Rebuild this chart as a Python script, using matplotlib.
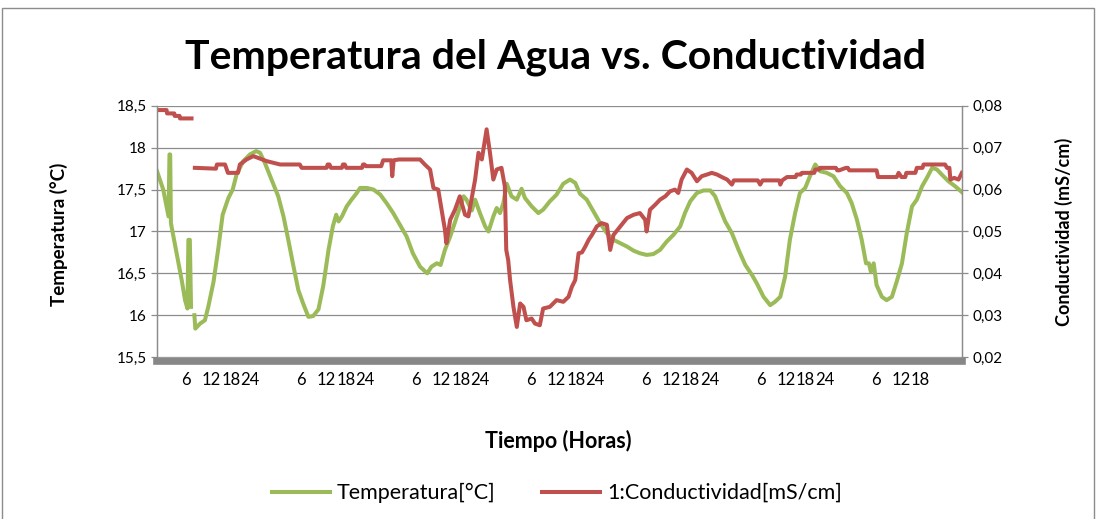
import numpy as np
import matplotlib
matplotlib.use("Agg")
import matplotlib.pyplot as plt
from matplotlib.patches import Rectangle

nan = np.nan

# Temperatura del agua (°C), x en horas
temp_hours = [0.0, 1.3, 2.4, 2.6, 2.75, 2.9, 4.1, 5.15, 5.85, 6.35, 6.55, 6.85, 7.1, 7.4,
              7.8, 8.0, 9.0, 10.0, 10.7, 11.8, 12.8, 13.7, 14.9, 15.8, 16.6, 18.0, 19.4,
              20.7, 21.5, 22.5, 23.9, 25.3, 26.4, 27.4, 28.5, 29.5, 30.5, 31.6, 32.6, 33.7,
              34.7, 35.8, 36.7, 37.4, 37.9, 38.6, 39.6, 40.6, 41.7, 42.4, 43.8, 45.2, 46.6,
              47.9, 49.3, 50.7, 52.1, 53.4, 54.9, 56.4, 57.3, 58.4, 59.2, 60.1, 61.2, 62.6,
              64.0, 64.6, 65.7, 66.4, 67.4, 68.5, 69.2, 70.2, 70.9, 71.6, 72.3, 73.0, 74.0,
              75.1, 76.1, 76.8, 78.2, 79.6, 80.6, 82.0, 83.4, 84.8, 86.2, 87.3, 88.3, 89.7,
              91.1, 92.5, 93.9, 95.3, 96.7, 98.1, 99.5, 100.8, 102.2, 103.6, 105.0, 106.4,
              107.8, 109.2, 110.2, 111.3, 112.7, 114.1, 115.5, 116.5, 117.6, 118.6, 120.0,
              121.4, 122.8, 124.2, 125.2, 126.6, 128.0, 129.0, 130.1, 131.1, 132.1, 133.2,
              134.2, 135.3, 136.3, 137.4, 138.4, 139.8, 141.2, 142.6, 144.0, 145.0, 146.1,
              147.1, 148.0, 148.6, 149.0, 149.6, 150.2, 151.3, 152.3, 153.4, 154.4, 155.5,
              156.5, 157.6, 158.6, 159.7, 160.7, 161.8, 162.8, 163.8, 165.2, 166.6, 168.0]
temp_vals = [17.72, 17.5, 17.18, 17.92, 17.92, 17.1, 16.74, 16.42, 16.18, 16.08, 16.9, 16.9,
             16.1, nan, 16.0, 15.84, 15.9, 15.94, 16.1, 16.4, 16.8, 17.2, 17.4, 17.5, 17.68,
             17.84, 17.92, 17.96, 17.94, 17.82, 17.62, 17.42, 17.18, 16.9, 16.58, 16.3, 16.14,
             15.98, 15.99, 16.07, 16.35, 16.78, 17.06, 17.2, 17.12, 17.18, 17.3, 17.38, 17.46,
             17.52, 17.52, 17.5, 17.44, 17.34, 17.22, 17.08, 16.94, 16.74, 16.58, 16.5, 16.58,
             16.62, 16.6, 16.78, 16.94, 17.18, 17.42, 17.38, 17.25, 17.38, 17.22, 17.06, 17.0,
             17.18, 17.28, 17.22, 17.34, 17.57, 17.42, 17.38, 17.51, 17.4, 17.3, 17.22, 17.26,
             17.36, 17.44, 17.57, 17.62, 17.58, 17.45, 17.38, 17.24, 17.1, 16.98, 16.9, 16.86,
             16.82, 16.77, 16.74, 16.72, 16.73, 16.78, 16.88, 16.96, 17.06, 17.22, 17.36, 17.46,
             17.49, 17.49, 17.42, 17.26, 17.12, 16.98, 16.78, 16.6, 16.48, 16.38, 16.22, 16.12,
             16.16, 16.22, 16.46, 16.9, 17.22, 17.46, 17.52, 17.66, 17.8, 17.72, 17.7, 17.66,
             17.54, 17.46, 17.34, 17.14, 16.9, 16.62, 16.62, 16.52, 16.62, 16.36, 16.22, 16.18,
             16.22, 16.4, 16.62, 16.98, 17.3, 17.38, 17.54, 17.64, 17.76, 17.74, 17.68, 17.6,
             17.54, 17.47]

# Conductividad (mS/cm)
cond_hours = [0.0, 2.0, 2.1, 3.6, 3.7, 4.7, 4.8, 7.2, 7.4, 7.9, 12.3, 12.5, 14.2, 14.8, 16.9,
              17.3, 18.7, 20.1, 21.5, 22.9, 24.3, 25.7, 29.8, 30.2, 35.4, 35.6, 36.0, 36.3,
              38.6, 38.8, 39.2, 39.5, 42.8, 43.0, 43.3, 43.6, 46.8, 47.2, 48.9, 49.1, 49.4,
              50.5, 54.9, 55.9, 57.0, 57.7, 58.7, 59.4, 60.1, 60.4, 61.2, 62.2, 63.2, 64.3,
              65.0, 65.7, 66.4, 67.1, 67.8, 68.8, 69.5, 70.2, 70.9, 71.9, 72.6, 72.9, 73.3,
              73.7, 74.4, 75.1, 75.8, 76.5, 77.1, 78.2, 78.9, 79.9, 80.6, 82.0, 83.4, 84.8,
              85.9, 86.6, 87.3, 88.0, 88.7, 89.4, 90.1, 90.8, 91.8, 92.8, 93.9, 94.6, 95.3,
              96.7, 98.1, 99.5, 100.8, 101.9, 102.2, 102.9, 104.0, 105.0, 106.1, 107.1, 108.1,
              108.8, 109.5, 110.6, 111.6, 112.7, 113.7, 114.8, 115.8, 116.9, 117.9, 119.0,
              120.0, 120.4, 125.4, 125.9, 126.4, 129.9, 130.1, 130.5, 131.5, 133.3, 133.5,
              134.4, 134.6, 137.2, 137.4, 138.2, 138.4, 141.7, 142.0, 142.4, 143.8, 144.2,
              144.5, 150.2, 150.5, 154.4, 154.8, 155.4, 156.2, 156.4, 158.3, 158.6, 159.8,
              160.0, 164.5, 164.9, 165.4, 165.6, 166.4, 167.3, 168.0]
cond_vals = [0.079, 0.079, 0.0782, 0.0782, 0.0776, 0.0776, 0.077, 0.077, nan, 0.0652, 0.065,
             0.066, 0.066, 0.064, 0.064, 0.066, 0.0672, 0.068, 0.0674, 0.0668, 0.0664, 0.066,
             0.066, 0.0652, 0.0652, 0.066, 0.066, 0.0652, 0.0652, 0.066, 0.066, 0.0652, 0.0652,
             0.066, 0.066, 0.0656, 0.0656, 0.067, 0.067, 0.0632, 0.067, 0.0672, 0.0672, 0.066,
             0.0648, 0.0604, 0.060, 0.0552, 0.0504, 0.0472, 0.0528, 0.0552, 0.0584, 0.054,
             0.0536, 0.058, 0.0624, 0.0688, 0.0672, 0.0744, 0.0688, 0.0624, 0.0648, 0.0652,
             0.0608, 0.0456, 0.0432, 0.0384, 0.032, 0.0272, 0.0328, 0.032, 0.0288, 0.0292,
             0.028, 0.0276, 0.0316, 0.032, 0.0336, 0.0332, 0.0344, 0.0368, 0.0384, 0.0448,
             0.045, 0.0464, 0.048, 0.0492, 0.0512, 0.052, 0.0516, 0.0456, 0.0492, 0.0512,
             0.0532, 0.054, 0.0544, 0.0528, 0.05, 0.0552, 0.0564, 0.0576, 0.0584, 0.0596, 0.06,
             0.0592, 0.0624, 0.0648, 0.064, 0.062, 0.0632, 0.0636, 0.064, 0.0636, 0.063, 0.0624,
             0.0612, 0.0622, 0.0622, 0.0612, 0.0622, 0.0622, 0.0612, 0.0622, 0.063, 0.063,
             0.0636, 0.0636, 0.064, 0.064, 0.0648, 0.0648, 0.0652, 0.0652, 0.0646, 0.0646,
             0.0652, 0.0652, 0.0646, 0.0646, 0.063, 0.063, 0.064, 0.063, 0.063, 0.064, 0.064,
             0.0652, 0.0652, 0.066, 0.066, 0.0652, 0.0652, 0.0624, 0.0628, 0.0624, 0.064]

# Etiquetas del eje x (horas del dia, 7 dias; el ultimo sin 24)
day_labels = ["6", "12", "18", "24"]
label_offsets = [6.0, 11.3, 15.4, 19.4]
n_days = 7
n_labels = 27

temp_ticks = [15.5, 16, 16.5, 17, 17.5, 18, 18.5]
cond_ticks = [0.02, 0.03, 0.04, 0.05, 0.06, 0.07, 0.08]

green = "#9BBB59"
red = "#C0504D"
grid_gray = "#8C8C8C"

plt.rcParams['font.family'] = ['Lato', 'DejaVu Sans']

fig = plt.figure(figsize=(10.98, 5.19), dpi=100)
ax = fig.add_axes([0.143, 0.312, 0.733, 0.484])
ax2 = ax.twinx()

# Lineas
l1, = ax.plot(temp_hours, temp_vals, color=green, lw=2.9, solid_joinstyle='round',
              label="Temperatura[°C]")
l2, = ax2.plot(cond_hours, cond_vals, color=red, lw=2.9, solid_joinstyle='round',
               label="1:Conductividad[mS/cm]")

# Ejes
ax.set_xlim(0, 168)
ax.set_ylim(15.5, 18.5)
ax2.set_ylim(0.02, 0.08)
ax.set_yticks(temp_ticks)
ax.set_yticklabels([f"{t:g}".replace(".", ",") for t in temp_ticks])
ax2.set_yticks(cond_ticks)
ax2.set_yticklabels([f"{c:.2f}".replace(".", ",") for c in cond_ticks])

xt, xl = [], []
for d in range(n_days):
    for off, lab in zip(label_offsets, day_labels):
        xt.append(24 * d + off)
        xl.append(lab)
ax.set_xticks(xt[:n_labels])
ax.set_xticklabels(xl[:n_labels])

ax.grid(axis='y', color=grid_gray, lw=0.9)
ax.set_axisbelow(True)
ax.tick_params(axis='x', length=0, labelsize=12, pad=8)
ax.tick_params(axis='y', length=4, color=grid_gray, width=0.9, labelsize=11)
ax2.tick_params(axis='y', length=4, color=grid_gray, width=0.9, labelsize=11)

for a in (ax, ax2):
    a.spines['top'].set_visible(False)
    a.spines['left'].set_color(grid_gray)
    a.spines['right'].set_color(grid_gray)
    a.spines['left'].set_linewidth(0.9)
    a.spines['right'].set_linewidth(0.9)
    a.spines['bottom'].set_visible(False)
ax.spines['bottom'].set_visible(True)
ax.spines['bottom'].set_color("#878787")
ax.spines['bottom'].set_linewidth(5.5)
ax.spines['bottom'].set_position(('outward', 2.6))

ax.set_ylabel("Temperatura (°C)", fontsize=13.5, fontweight='bold')
ax.yaxis.set_label_coords(-0.111, 0.49)
ax2.set_ylabel("Conductividad (mS/cm)", fontsize=13, fontweight='bold', rotation=90)
ax2.yaxis.set_label_coords(1.116, 0.5)
ax.set_xlabel("Tiempo (Horas)", fontsize=15.5, fontweight='bold')
ax.xaxis.set_label_coords(0.498, -0.29)

fig.text(0.506, 0.89, "Temperatura del Agua vs. Conductividad", ha='center', va='center',
         fontsize=29.5, fontweight='bold')

fig.legend(handles=[l1, l2], loc='center', bbox_to_anchor=(0.507, 0.05), ncol=2,
           frameon=False, fontsize=15.5, handlelength=2.7, columnspacing=2.2,
           handletextpad=0.3)

# Borde del area del grafico
fig.patches.append(Rectangle((0.002, -0.02), 0.994, 1.004, transform=fig.transFigure,
                             fill=False, edgecolor=grid_gray, lw=1.0))

fig.savefig("out.png", dpi=100)
